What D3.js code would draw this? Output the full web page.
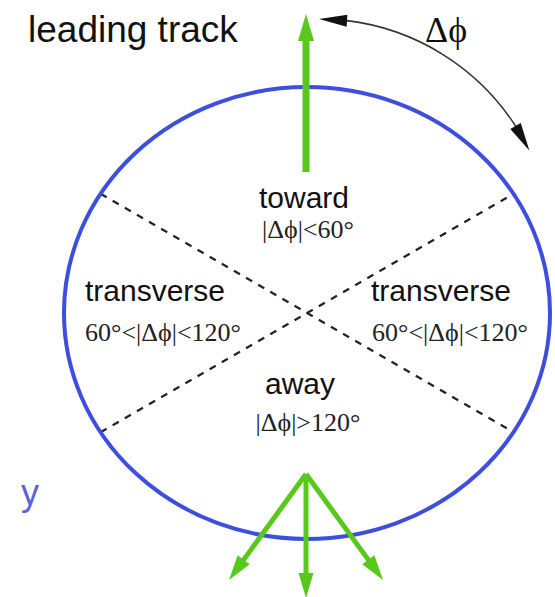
<!DOCTYPE html>
<html>
<head>
<meta charset="utf-8">
<script src="https://cdn.jsdelivr.net/npm/d3@7"></script>
<style>
  body { margin: 0; background: #fff; }
  svg { display: block; }
</style>
</head>
<body>
<div id="chart"></div>
<script>
// region names and their |dphi| ranges
var regionNames = ["toward", "transverse", "transverse", "away"];
var regionRanges = ["|Δϕ|<60°", "60°<|Δϕ|<120°", "60°<|Δϕ|<120°", "|Δϕ|>120°"];
// boundaries between regions, degrees clockwise from the leading track
var boundaryAngles = [60, 120];
// track directions, degrees clockwise from up
var leadingAngles = [0];
var awayAngles = [216, 180, 144];
// the delta-phi arrow runs between these angles
var dphiArc = [0, 64];

var width = 555, height = 597;
var cx = 307, cy = 313, rx = 243, ry = 226;

var svg = d3.select("#chart")
    .append("svg")
    .attr("width", width)
    .attr("height", height);

var rad = d3.scaleLinear().domain([0, 360]).range([0, 2 * Math.PI]);

// where a ray from the centre hits the ellipse
function onEllipse(deg) {
    var a = rad(deg), dx = Math.sin(a), dy = -Math.cos(a);
    var t = 1 / Math.sqrt((dx / rx) * (dx / rx) + (dy / ry) * (dy / ry));
    return [cx + t * dx, cy + t * dy];
}

function arrow(x0, y0, deg, len, head, hw, color, sw) {
    var a = rad(deg), dx = Math.sin(a), dy = -Math.cos(a);
    var tx = x0 + dx * len, ty = y0 + dy * len;
    var bx = tx - dx * head, by = ty - dy * head;
    svg.append("line")
        .attr("x1", x0).attr("y1", y0)
        .attr("x2", bx + dx * 2).attr("y2", by + dy * 2)
        .attr("stroke", color)
        .attr("stroke-width", sw);
    svg.append("path")
        .attr("d", "M" + tx + "," + ty +
            "L" + (bx - dy * hw) + "," + (by + dx * hw) +
            "L" + (bx + dy * hw) + "," + (by - dx * hw) + "Z")
        .attr("fill", color);
}

// dashed dividers
boundaryAngles.forEach(function (d) {
    var p = onEllipse(-d), q = onEllipse(180 - d);
    svg.append("line")
        .attr("x1", p[0]).attr("y1", p[1])
        .attr("x2", q[0]).attr("y2", q[1])
        .attr("stroke", "#222")
        .attr("stroke-width", 2.2)
        .attr("stroke-dasharray", "7,7");
});

svg.append("ellipse")
    .attr("cx", cx).attr("cy", cy)
    .attr("rx", rx).attr("ry", ry)
    .attr("fill", "none")
    .attr("stroke", "#3d4fdc")
    .attr("stroke-width", 4);

var green = "#58c81c";
leadingAngles.forEach(function (d) {
    arrow(cx - 1, 172, d, 158, 27, 8, green, 7);
});
awayAngles.forEach(function (d) {
    var len = d === 180 ? 124 : 131;
    arrow(cx - 1, 474, d, len, 25, 7.5, green, 5);
});

// delta-phi arc with arrowheads at both ends
var acx = 319, acy = 253, ar = 234;
var arcPath = d3.path();
var a0 = rad(dphiArc[0]) - Math.PI / 2, a1 = rad(dphiArc[1]) - Math.PI / 2;
var s0 = a0 + 0.11, s1 = a1 - 0.11;
arcPath.arc(acx, acy, ar, s0, s1);
svg.append("path")
    .attr("d", arcPath.toString())
    .attr("fill", "none")
    .attr("stroke", "#333")
    .attr("stroke-width", 1.6);

function arcHead(ang, back) {
    var tx = acx + ar * Math.cos(ang), ty = acy + ar * Math.sin(ang);
    var bx = acx + ar * Math.cos(back), by = acy + ar * Math.sin(back);
    var ux = bx - tx, uy = by - ty, l = Math.sqrt(ux * ux + uy * uy);
    var nx = -uy / l * 6, ny = ux / l * 6;
    svg.append("path")
        .attr("d", "M" + tx + "," + ty + "L" + (bx + nx) + "," + (by + ny) +
            "L" + (bx - nx) + "," + (by - ny) + "Z")
        .attr("fill", "#111");
}
arcHead(a0, a0 + 0.12);
arcHead(a1, a1 - 0.12);

var sans = "'Liberation Sans', Arial, Helvetica, sans-serif";
var serif = "'Liberation Serif', 'Times New Roman', 'DejaVu Serif', serif";

svg.append("text")
    .attr("x", 28).attr("y", 42)
    .style("font-family", sans)
    .style("font-size", "37px")
    .attr("fill", "#111")
    .text("leading track");

svg.append("text")
    .attr("x", 425).attr("y", 42)
    .style("font-family", serif)
    .style("font-size", "36px")
    .attr("fill", "#111")
    .text("Δϕ");

svg.append("text")
    .attr("x", 21).attr("y", 505)
    .style("font-family", sans)
    .style("font-size", "36px")
    .attr("fill", "#6060d8")
    .text("y");

// label layout: [name x, name y, range x, range y]
var labelPos = [[304, 208, 308, 238], [155, 301, 163, 341], [441, 301, 450, 341], [300, 394, 308, 431]];

svg.selectAll(".rname")
    .data(regionNames)
    .enter().append("text")
    .attr("class", "rname")
    .attr("text-anchor", "middle")
    .attr("x", function (d, i) { return labelPos[i][0]; })
    .attr("y", function (d, i) { return labelPos[i][1]; })
    .style("font-family", sans)
    .style("font-size", "30px")
    .attr("fill", "#111")
    .text(function (d) { return d; });

svg.selectAll(".rrange")
    .data(regionRanges)
    .enter().append("text")
    .attr("class", "rrange")
    .attr("text-anchor", "middle")
    .attr("x", function (d, i) { return labelPos[i][2]; })
    .attr("y", function (d, i) { return labelPos[i][3]; })
    .style("font-family", serif)
    .style("font-size", "26px")
    .attr("fill", "#222")
    .text(function (d) { return d; });
</script>
</body>
</html>
